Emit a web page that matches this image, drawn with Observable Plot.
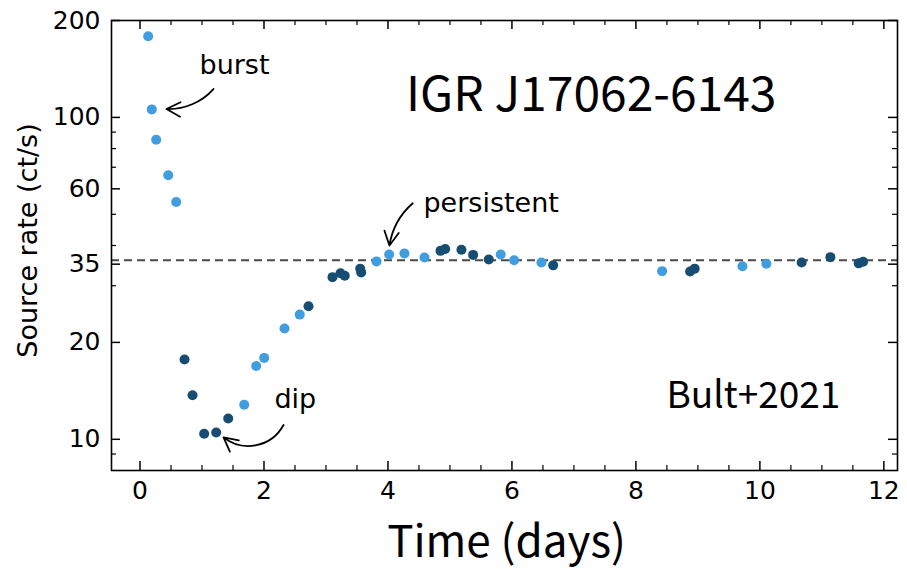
<!DOCTYPE html>
<html>
<head>
<meta charset="utf-8">
<script src="https://cdn.jsdelivr.net/npm/d3@7"></script>
<script src="https://cdn.jsdelivr.net/npm/@observablehq/plot@0.6"></script>
<style>
  html, body { margin: 0; padding: 0; background: #fff; }
</style>
</head>
<body>
<div id="chart"></div>
<script>
// ---- data ----
const lightTime = [0.132, 0.190, 0.261, 0.455, 0.584, 1.681, 1.874, 2.003, 2.331, 2.577, 3.815, 4.019, 4.266, 4.589, 5.819, 6.035, 6.476, 8.423, 9.718, 10.105];
const lightRate = [178.8, 105.9, 85.2, 66.1, 54.6, 12.8, 16.9, 17.9, 22.1, 24.4, 35.7, 37.5, 37.8, 36.7, 37.5, 36.0, 35.4, 33.3, 34.5, 35.1];
const darkTime = [0.718, 0.847, 1.035, 1.229, 1.423, 2.718, 3.105, 3.234, 3.303, 3.552, 3.568, 4.847, 4.923, 5.185, 5.374, 5.626, 6.665, 8.874, 8.948, 10.674, 11.137, 11.594, 11.665];
const darkRate = [17.7, 13.7, 10.4, 10.5, 11.6, 25.9, 31.9, 32.8, 32.2, 33.9, 33.0, 38.5, 39.0, 38.8, 37.4, 36.2, 34.7, 33.2, 33.9, 35.4, 36.8, 35.2, 35.6];
const persistentLevel = [36];

const xMajorTicks = [0, 2, 4, 6, 8, 10, 12];
const xMinorTicks = [0.5, 1, 1.5, 2.5, 3, 3.5, 4.5, 5, 5.5, 6.5, 7, 7.5, 8.5, 9, 9.5, 10.5, 11, 11.5];
const yMajorTicks = [10, 20, 35, 60, 100, 200];
const yMinorTicks = [9, 30, 40, 50, 70, 80, 90];

const noteLabels = ["burst", "persistent", "dip"];
const noteTextTime = [0.96, 4.573, 2.169];
const noteTextRate = [136.4, 50.7, 12.52];
const arrowStartTime = [1.185, 4.40, 2.315];
const arrowStartRate = [122.5, 54.1, 11.08];
const arrowEndTime = [0.427, 4.024, 1.347];
const arrowEndRate = [106.2, 40.0, 10.14];
const arrowBend = [25, -20, 50];

const titleText = ["IGR J17062-6143"];
const titleTime = [7.28], titleRate = [104.6];
const refText = ["Bult+2021"];
const refTime = [9.895], refRate = [12.52];

const lightColor = "#3f9de0";
const darkColor = "#174d73";

// ---- tables ----
const lightData = lightTime.map((t, i) => ({t, r: lightRate[i]}));
const darkData = darkTime.map((t, i) => ({t, r: darkRate[i]}));
const notes = noteLabels.map((s, i) => ({s, t: noteTextTime[i], r: noteTextRate[i]}));
const arrows = noteLabels.map((s, i) => ({
  x1: arrowStartTime[i], y1: arrowStartRate[i], x2: arrowEndTime[i], y2: arrowEndRate[i], bend: arrowBend[i]
}));

const W = 907, H = 569;
const mL = 111, mR = 10, mT = 20, mB = 99;
const innerW = W - mL - mR, innerH = H - mT - mB;
const majorLen = 9, minorLen = 5;

const arrowMarks = arrows.map(a => Plot.arrow([a], {
  x1: "x1", y1: "y1", x2: "x2", y2: "y2", bend: a.bend,
  stroke: "black", strokeWidth: 1.8, headLength: 13, headAngle: 55
}));

const plot = Plot.plot({
  width: W, height: H,
  marginLeft: mL, marginRight: mR, marginTop: mT, marginBottom: mB,
  x: {domain: [-0.46, 12.22]},
  y: {type: "log", domain: [8, 200]},
  style: {fontFamily: "DejaVu Sans", background: "white", color: "black"},
  marks: [
    Plot.ruleY(persistentLevel, {y: d => d, stroke: "#4a4a4a", strokeWidth: 2, strokeDasharray: "8,5"}),
    Plot.dot(lightData, {x: "t", y: "r", r: 5, fill: lightColor}),
    Plot.dot(darkData, {x: "t", y: "r", r: 5, fill: darkColor}),
    // inward ticks
    Plot.tickX(xMajorTicks, {x: d => d, insetTop: innerH - majorLen, strokeWidth: 1.5, stroke: "black"}),
    Plot.tickX(xMajorTicks, {x: d => d, insetBottom: innerH - majorLen, strokeWidth: 1.5, stroke: "black"}),
    Plot.tickX(xMinorTicks, {x: d => d, insetTop: innerH - minorLen, strokeWidth: 1.2, stroke: "black"}),
    Plot.tickX(xMinorTicks, {x: d => d, insetBottom: innerH - minorLen, strokeWidth: 1.2, stroke: "black"}),
    Plot.tickY(yMajorTicks, {y: d => d, insetRight: innerW - majorLen, strokeWidth: 1.5, stroke: "black"}),
    Plot.tickY(yMajorTicks, {y: d => d, insetLeft: innerW - majorLen, strokeWidth: 1.5, stroke: "black"}),
    Plot.tickY(yMinorTicks, {y: d => d, insetRight: innerW - minorLen, strokeWidth: 1.2, stroke: "black"}),
    Plot.tickY(yMinorTicks, {y: d => d, insetLeft: innerW - minorLen, strokeWidth: 1.2, stroke: "black"}),
    Plot.frame({stroke: "black", strokeWidth: 1.6}),
    Plot.axisX(xMajorTicks, {tickSize: 0, tickPadding: 11, fontSize: 25, label: null, tickFormat: d => String(d)}),
    Plot.axisY(yMajorTicks, {tickSize: 0, tickPadding: 11, fontSize: 25, label: null, tickFormat: d => String(d)}),
    // axis titles
    Plot.text(["Source rate (ct/s)"], {frameAnchor: "left", rotate: -90, dx: -75, dy: -5, textAnchor: "middle", lineAnchor: "bottom", fontSize: 27, fontFamily: "DejaVu Sans", fill: "black"}),
    Plot.text(["Time (days)"], {frameAnchor: "bottom", dx: 2, dy: 86, textAnchor: "middle", lineAnchor: "bottom", fontSize: 44, fontFamily: "Noto Sans CJK JP", fill: "black"}),
    // annotations
    ...arrowMarks,
    Plot.text(notes, {x: "t", y: "r", text: "s", textAnchor: "start", lineAnchor: "bottom", fontSize: 27, fontFamily: "DejaVu Sans", fill: "black"}),
    Plot.text(titleText, {x: () => titleTime[0], y: () => titleRate[0], text: d => d, textAnchor: "middle", lineAnchor: "bottom", fontSize: 48, fontFamily: "Noto Sans CJK JP", fill: "black"}),
    Plot.text(refText, {x: () => refTime[0], y: () => refRate[0], text: d => d, textAnchor: "middle", lineAnchor: "bottom", fontSize: 37, fontFamily: "Noto Sans CJK JP", fill: "black"})
  ]
});
document.getElementById("chart").appendChild(plot);
</script>
</body>
</html>
